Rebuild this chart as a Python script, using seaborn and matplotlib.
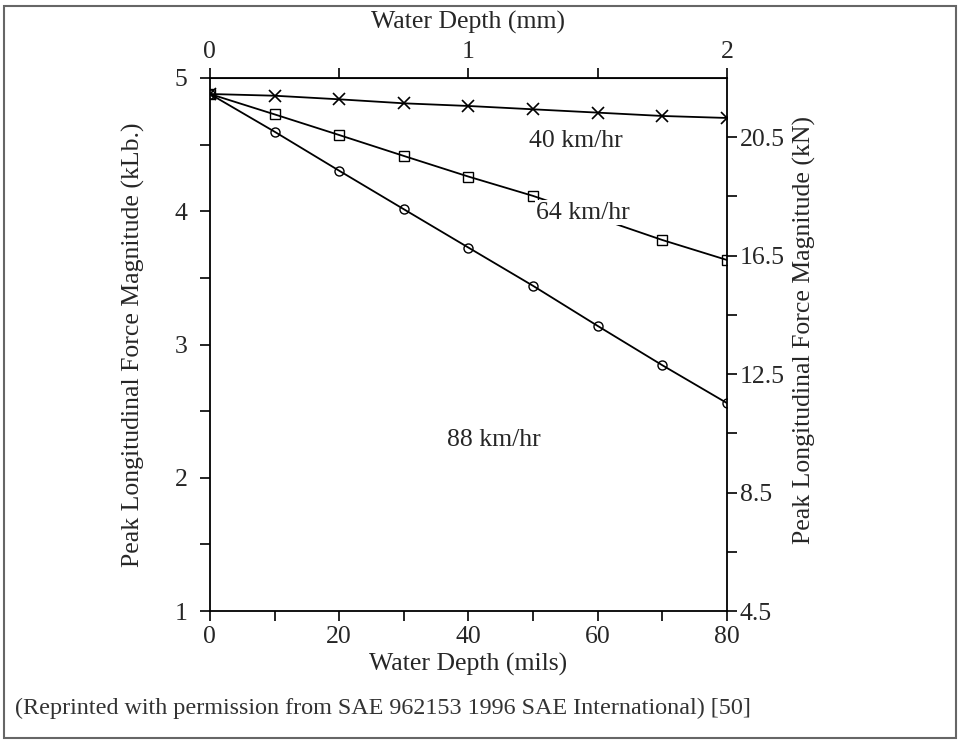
import numpy as np
import pandas as pd
import matplotlib
matplotlib.use("Agg")
import matplotlib.pyplot as plt
import seaborn as sns
from matplotlib.patches import Rectangle

# Data
depth_mils = [0, 10, 20, 30, 40, 50, 60, 70, 80]
force_40 = [4.88, 4.867, 4.84, 4.81, 4.79, 4.765, 4.74, 4.715, 4.70]
force_64 = [4.88, 4.727, 4.572, 4.415, 4.26, 4.115, 3.95, 3.784, 3.634]
force_88 = [4.88, 4.597, 4.304, 4.015, 3.727, 3.44, 3.139, 2.844, 2.56]
speed_labels = ["40 km/hr", "64 km/hr", "88 km/hr"]

left_ticks = [1, 2, 3, 4, 5]
right_ticks = [4.5, 8.5, 12.5, 16.5, 20.5]
top_ticks = [0, 1, 2]
bottom_ticks = [0, 20, 40, 60, 80]

sns.set_style("white")
plt.rcParams["font.family"] = ["Liberation Serif", "DejaVu Serif"]

fig = plt.figure(figsize=(9.63, 7.40), dpi=100)
ax = fig.add_axes([0.218, 0.1743, 0.537, 0.7203])

series = [
    (force_40, "x", 8, 1.2),
    (force_64, "s", 7.5, 1.0),
    (force_88, "o", 6.5, 1.0),
]
for vals, mk, ms, mew in series:
    sns.lineplot(x=depth_mils, y=vals, ax=ax, color="black", lw=1.3,
                 marker=mk, markersize=ms, markerfacecolor="none",
                 markeredgecolor="black", markeredgewidth=mew, zorder=2)

ax.set_xlim(0, 80)
ax.set_ylim(1, 5)

fs = 18.5
ax.set_xticks(np.arange(0, 81, 10))
ax.set_xticklabels([str(t) if t in bottom_ticks else "" for t in range(0, 81, 10)])
ax.set_yticks(np.arange(1, 5.01, 0.5))
ax.set_yticklabels([str(int(t)) if t in left_ticks else "" for t in np.arange(1, 5.01, 0.5)])
ax.tick_params(axis="both", direction="out", length=7, width=1.2, labelsize=fs,
               bottom=True, left=True, color="black", pad=4)
ax.tick_params(axis="y", pad=9)
ax.set_xlabel("Water Depth (mils)", fontsize=fs, labelpad=3)
ax.set_ylabel("Peak Longitudinal Force Magnitude (kLb.)", fontsize=fs)
ax.yaxis.set_label_coords(-0.125, 0.5)

for s in ax.spines.values():
    s.set_color("black")
    s.set_linewidth(1.3)
    s.set_visible(True)

# top axis in mm
top = ax.secondary_xaxis("top", functions=(lambda x: x / 40.0, lambda x: x * 40.0))
top.set_xticks([0, 0.5, 1, 1.5, 2])
top.set_xticklabels(["0", "", "1", "", "2"])
top.tick_params(direction="out", length=7, width=1.2, labelsize=fs, color="black", pad=4)
top.set_xlabel("Water Depth (mm)", fontsize=fs, labelpad=9)

# right axis in kN
right = ax.twinx()
right.set_ylim(4.5, 22.5)
rt = np.arange(4.5, 21, 2)
right.set_yticks(rt)
right.set_yticklabels([f"{t:.1f}" if t in right_ticks else "" for t in rt])
right.tick_params(axis="y", direction="out", length=7, width=1.2, labelsize=fs,
                  right=True, color="black", pad=2)
right.set_ylabel("Peak Longitudinal Force Magnitude (kN)", fontsize=fs)
right.yaxis.set_label_coords(1.127, 0.527)
for s in right.spines.values():
    s.set_visible(False)

# curve labels
ax.text(49.4, 4.53, speed_labels[0], fontsize=fs, va="center", ha="left")
ax.text(50.5, 3.99, speed_labels[1], fontsize=fs, va="center", ha="left", zorder=5,
        bbox=dict(facecolor="white", edgecolor="none", pad=1.0))
ax.text(36.7, 2.28, speed_labels[2], fontsize=fs, va="center", ha="left")

# caption and outer frame
fig.text(15 / 963, 1 - 708 / 740, "(Reprinted with permission from SAE 962153 1996 SAE International) [50]",
         fontsize=17.4, color="#333333", va="center", ha="left")
fig.patches.append(Rectangle((4 / 963, 2 / 740), 952 / 963, 732 / 740, transform=fig.transFigure,
                             fill=False, edgecolor="#666666", lw=1.5))

fig.savefig("out.png", dpi=100)
